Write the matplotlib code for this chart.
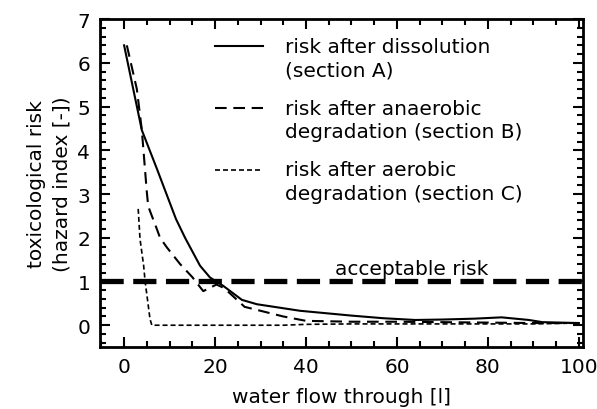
import numpy as np
import matplotlib.pyplot as plt
from matplotlib.ticker import MultipleLocator

plt.rcParams['font.family'] = ['DejaVu Sans']
plt.rcParams['font.size'] = 14.5

# risk after dissolution (section A)
flow_a = [0, 3.9, 7.2, 11.4, 13.4, 16.7, 18.9, 21.8, 25.9, 29.2, 38.7, 50, 57, 64, 70, 77, 83, 89, 92, 100]
risk_a = [6.4, 4.46, 3.58, 2.43, 2.0, 1.36, 1.09, 0.9, 0.58, 0.48, 0.33, 0.22, 0.16, 0.12, 0.13, 0.15, 0.18, 0.12, 0.07, 0.05]

# risk after anaerobic degradation (section B)
flow_b = [0.6, 2.8, 3.9, 5.0, 5.3, 6.1, 7.2, 7.9, 9.4, 12.3, 15, 17.4, 20.3, 22, 26.5, 30, 35, 40, 50, 60, 70, 80, 90, 100]
risk_b = [6.4, 5.4, 4.46, 3.04, 2.72, 2.5, 2.2, 2.0, 1.78, 1.4, 1.1, 0.78, 0.93, 0.85, 0.42, 0.33, 0.2, 0.1, 0.08, 0.08, 0.07, 0.06, 0.05, 0.05]

# risk after aerobic degradation (section C)
flow_c = [3.1, 3.5, 4.3, 4.6, 5.7, 6.1, 20, 35, 40, 50, 60, 70, 80, 90, 100]
risk_c = [2.66, 1.97, 1.36, 1.02, 0.14, 0.0, 0.0, 0.0, 0.02, 0.03, 0.03, 0.03, 0.03, 0.03, 0.05]

acceptable = 1.0

fig = plt.figure(figsize=(5.97, 4.10), dpi=100)
ax = fig.add_axes([0.1675, 0.151, 0.809, 0.8])

ax.axhline(acceptable, color='black', lw=3.8, dashes=(4.4, 1.8))
ax.text(63.3, 1.17, 'acceptable risk', ha='center', va='baseline')

ax.plot(flow_a, risk_a, color='black', lw=1.5,
        label='risk after dissolution\n(section A)')
ax.plot(flow_b, risk_b, color='black', lw=1.5, dashes=(5.6, 3.2),
        label='risk after anaerobic\ndegradation (section B)')
ax.plot(flow_c, risk_c, color='black', lw=1.2, dashes=(3, 1.8),
        label='risk after aerobic\ndegradation (section C)')

ax.set_xlim(-5.3, 100.9)
ax.set_ylim(-0.5, 7)
ax.xaxis.set_major_locator(MultipleLocator(20))
ax.xaxis.set_minor_locator(MultipleLocator(5))
ax.yaxis.set_major_locator(MultipleLocator(1))
ax.yaxis.set_minor_locator(MultipleLocator(0.2))
ax.tick_params(which='both', direction='in', top=True, right=True, width=1.5)
ax.tick_params(which='major', length=7, pad=7)
ax.tick_params(which='minor', length=4)
for s in ax.spines.values():
    s.set_linewidth(2)

ax.set_xlabel('water flow through [l]', labelpad=8)
ax.set_ylabel('toxicological risk\n(hazard index [-])', labelpad=4, linespacing=1.45)

leg = ax.legend(loc='upper left', bbox_to_anchor=(0.238, 0.945), frameon=False,
                borderpad=0, borderaxespad=0, handlelength=2.4, handletextpad=1.1,
                labelspacing=0.95)
for t in leg.get_texts():
    t.set_linespacing(1.3)
# put the handle next to the first line of each label
for ln in leg.get_lines():
    ln.set_ydata(np.asarray(ln.get_ydata()) + 9)

fig.savefig('out.png', dpi=100)
